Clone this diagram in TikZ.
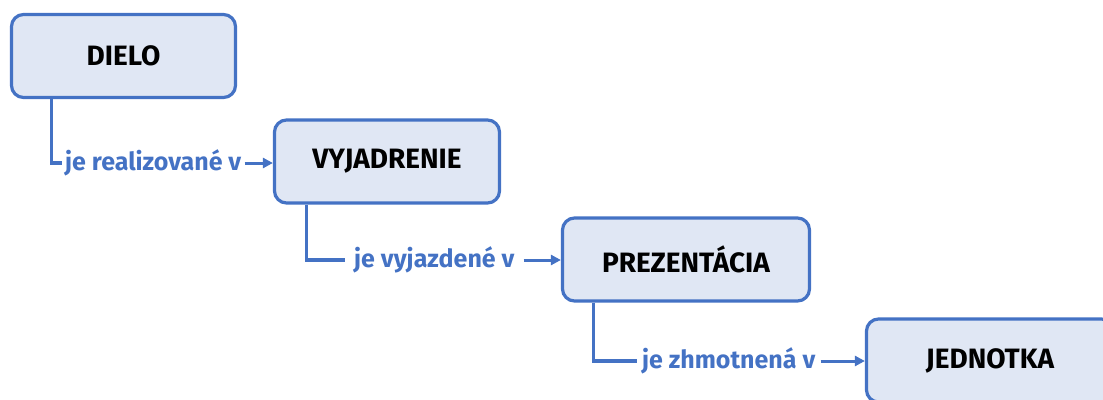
\documentclass[tikz,border=0pt]{standalone}
\usepackage{fontspec}
\setmainfont{Fira Sans}
\usetikzlibrary{arrows.meta}
\definecolor{edge}{HTML}{4472C4}
\definecolor{boxfill}{HTML}{E0E7F4}
\begin{document}
\begin{tikzpicture}[x=1pt,y=-1pt,
  stepbox/.style={draw=edge, fill=boxfill, line width=3.2pt, rounded corners=12pt,
    minimum height=83pt, inner sep=0pt, text=black,
    font=\fontsize{28}{32}\selectfont\bfseries},
  link/.style={draw=edge, line width=3.2pt},
  flow/.style={draw=edge, line width=3pt, -{Triangle[length=10pt,width=10pt]}},
  tag/.style={text=edge, inner sep=3pt, anchor=west,
    font=\fontsize{25}{29}\selectfont\bfseries}]
\useasboundingbox (0,0) rectangle (1103,399);
\clip (0,0) rectangle (1103,399);

% the four stages
\node[stepbox, minimum width=224pt] (dielo) at (123.5,56) {DIELO};
\node[stepbox, minimum width=225pt] (vyj)   at (387,161.5) {VYJADRENIE};
\node[stepbox, minimum width=247pt] (prez)  at (686,259.5) {PREZENTÁCIA};
\node[stepbox, minimum width=247pt] (jedn)  at (990,360.5) {JEDNOTKA};

% relation labels
\node[tag] (r1) at (62,163)  {je realizované v};
\node[tag, inner xsep=9pt] (r2) at (345,260) {je vyjazdené v};
\node[tag, inner xsep=5pt] (r3) at (637,361) {je zhmotnená v};

% elbow links from each stage down to its label
\draw[link] ([xshift=41.5pt]dielo.south west) |- (r1.west);
\draw[link] ([xshift=33.5pt]vyj.south west)   |- (r2.west);
\draw[link] ([xshift=32.5pt]prez.south west)  |- (r3.west);

% arrows from each label into the next stage
\draw[flow] (r1.east) -- (r1.east -| vyj.west);
\draw[flow] (r2.east) -- (r2.east -| prez.west);
\draw[flow] (r3.east) -- (r3.east -| jedn.west);
\end{tikzpicture}
\end{document}
